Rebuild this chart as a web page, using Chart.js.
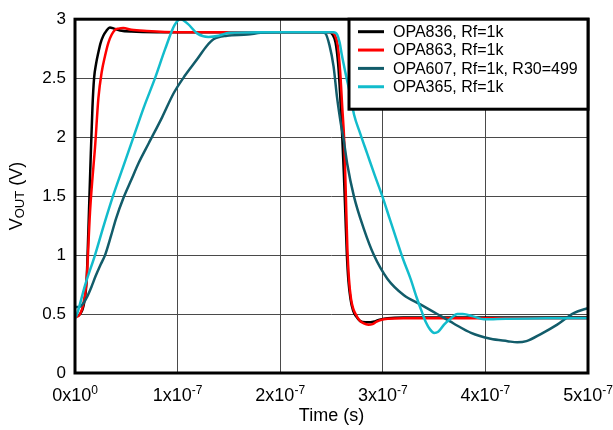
<!DOCTYPE html>
<html>
<head>
<meta charset="utf-8">
<script src="https://cdn.jsdelivr.net/npm/chart.js@4.4.1/dist/chart.umd.min.js"></script>
<style>
  html, body { margin: 0; padding: 0; background: #fff; }
  #wrap { width: 613px; height: 430px; }
</style>
</head>
<body>
<div id="wrap"><canvas id="myChart" width="613" height="430"></canvas></div>
<script>
// time in ns, output in V
const opa836T = [0, 5, 9, 11.4, 13, 15, 17, 18.6, 20.5, 22.8, 25, 27.6, 30.5, 34, 38, 44, 55, 80, 120, 160, 200, 230, 248, 251, 254, 256.5, 258.5, 260.5, 262, 263.5, 265, 266.5, 268.5, 271, 274, 278, 283, 288, 293, 298, 305, 320, 360, 400, 450, 500];
const opa836V = [0.48, 0.5, 0.6, 0.8, 1.2, 1.75, 2.25, 2.5, 2.62, 2.72, 2.8, 2.86, 2.9, 2.93, 2.92, 2.905, 2.895, 2.89, 2.89, 2.89, 2.89, 2.89, 2.89, 2.87, 2.8, 2.62, 2.35, 2.0, 1.7, 1.35, 1.0, 0.78, 0.63, 0.53, 0.48, 0.44, 0.43, 0.43, 0.44, 0.455, 0.465, 0.47, 0.47, 0.47, 0.47, 0.47];

const opa863T = [0, 5, 8, 11.4, 14.6, 17, 19.5, 22.8, 26, 29.3, 32.5, 35.8, 39, 42.3, 47, 55, 70, 100, 150, 200, 240, 250, 253, 256, 258.5, 260.5, 262.5, 264, 265.5, 267, 269, 271, 273.5, 277, 281.5, 286, 290, 294, 298, 305, 320, 360, 400, 450, 500];
const opa863V = [0.47, 0.5, 0.58, 0.8, 1.36, 1.65, 1.91, 2.33, 2.55, 2.69, 2.8, 2.87, 2.91, 2.92, 2.925, 2.91, 2.9, 2.89, 2.89, 2.89, 2.89, 2.89, 2.87, 2.78, 2.55, 2.25, 1.95, 1.5, 1.05, 0.8, 0.63, 0.55, 0.5, 0.45, 0.42, 0.41, 0.415, 0.435, 0.45, 0.46, 0.465, 0.465, 0.465, 0.465, 0.465];

const opa607T = [0, 4, 8, 12, 16, 20, 25, 29.3, 35, 40, 47, 55, 62, 72, 85, 96, 107, 119, 128.6, 135, 148, 168, 181, 200, 240, 244, 248, 252, 255.5, 259, 262, 265.3, 271.8, 281.6, 291.3, 304.4, 320.6, 337, 353, 369, 386, 405, 421.6, 431, 440, 454, 470, 486.6, 500];
const opa607V = [0.56, 0.56, 0.59, 0.65, 0.73, 0.82, 0.92, 1.0, 1.16, 1.31, 1.48, 1.64, 1.78, 1.95, 2.17, 2.37, 2.52, 2.66, 2.775, 2.83, 2.86, 2.87, 2.885, 2.89, 2.89, 2.88, 2.78, 2.6, 2.33, 2.12, 1.97, 1.775, 1.5, 1.22, 1.0, 0.8, 0.66, 0.58, 0.5, 0.42, 0.34, 0.29, 0.27, 0.26, 0.27, 0.33, 0.41, 0.51, 0.55];

const opa365T = [0, 2, 10, 19.5, 28, 37, 47, 57, 67, 78, 88, 97, 103, 110, 119, 130, 140, 150, 180, 220, 252, 255.5, 258, 260, 264, 268, 272, 278, 284.8, 292, 299.5, 307, 314.2, 320, 327, 333, 338, 342, 346, 350, 354, 359.7, 366, 372.7, 378, 388, 398.7, 420, 460, 500];
const opa365V = [0.46, 0.5, 0.75, 1.0, 1.25, 1.5, 1.75, 2.0, 2.25, 2.5, 2.75, 2.95, 3.0, 2.96, 2.88, 2.85, 2.86, 2.885, 2.89, 2.89, 2.89, 2.87, 2.8, 2.7, 2.53, 2.37, 2.19, 2.03, 1.86, 1.68, 1.5, 1.3, 1.11, 0.96, 0.8, 0.64, 0.52, 0.43, 0.37, 0.34, 0.35, 0.41, 0.46, 0.5, 0.5, 0.48, 0.455, 0.46, 0.465, 0.465];

const seriesNames = ['OPA836, Rf=1k', 'OPA863, Rf=1k', 'OPA607, Rf=1k, R30=499', 'OPA365, Rf=1k'];
const seriesColors = ['#000000', '#ff0000', '#125c6a', '#12bccc'];

const xTicks = [0, 100, 200, 300, 400, 500];
const xTickMantissa = ['0', '1', '2', '3', '4', '5'];
const xTickExponent = ['0', '-7', '-7', '-7', '-7', '-7'];

const FONT = '"Liberation Sans", Arial, sans-serif';

function pts(t, v){
  return t.map((x, i) => ({x: x, y: v[i]}));
}

function makeSet(i, t, v, order){
  return {
    label: seriesNames[i],
    data: pts(t, v),
    borderColor: seriesColors[i],
    backgroundColor: seriesColors[i],
    borderWidth: 2.5,
    pointRadius: 0,
    cubicInterpolationMode: 'monotone',
    order: order
  };
}

const decor = {
  id: 'decor',
  afterDraw(chart){
    const ctx = chart.ctx;
    const a = chart.chartArea;
    const xs = chart.scales.x;
    ctx.save();

    // plot frame
    ctx.lineWidth = 3;
    ctx.strokeStyle = '#000';
    ctx.strokeRect(a.left, a.top, a.right - a.left, a.bottom - a.top);

    // x tick labels with superscript exponent
    ctx.fillStyle = '#000';
    ctx.textBaseline = 'alphabetic';
    ctx.textAlign = 'left';
    xTicks.forEach((v, i) => {
      const px = xs.getPixelForValue(v);
      const main = xTickMantissa[i] + 'x10';
      ctx.font = '18px ' + FONT;
      const w1 = ctx.measureText(main).width;
      ctx.font = '12px ' + FONT;
      const w2 = ctx.measureText(xTickExponent[i]).width;
      const x0 = px - (w1 + w2) / 2;
      ctx.font = '18px ' + FONT;
      ctx.fillText(main, x0, 401);
      ctx.font = '12px ' + FONT;
      ctx.fillText(xTickExponent[i], x0 + w1, 393.5);
    });

    // x title
    ctx.font = '18px ' + FONT;
    ctx.textAlign = 'center';
    ctx.fillText('Time (s)', (a.left + a.right) / 2, 421);

    // y title  V_OUT (V)
    ctx.save();
    ctx.translate(15, (a.top + a.bottom) / 2);
    ctx.rotate(-Math.PI / 2);
    ctx.textAlign = 'left';
    ctx.font = '18px ' + FONT;
    const wV = ctx.measureText('V').width;
    const wRest = ctx.measureText(' (V)').width;
    ctx.font = '13px ' + FONT;
    const wSub = ctx.measureText('OUT').width;
    let sx = -(wV + wSub + wRest) / 2;
    ctx.font = '18px ' + FONT;
    ctx.fillText('V', sx, 6.5);
    ctx.font = '13px ' + FONT;
    ctx.fillText('OUT', sx + wV, 8.5);
    ctx.font = '18px ' + FONT;
    ctx.fillText(' (V)', sx + wV + wSub, 6.5);
    ctx.restore();

    // legend box
    const lx = 349, ly = a.top, lw = a.right - 349, lh = 90;
    ctx.fillStyle = '#fff';
    ctx.fillRect(lx, ly, lw, lh);
    ctx.lineWidth = 3;
    ctx.strokeStyle = '#000';
    ctx.strokeRect(lx, ly, lw, lh);
    ctx.font = '16px ' + FONT;
    ctx.textAlign = 'left';
    ctx.textBaseline = 'middle';
    seriesNames.forEach((name, i) => {
      const y = 31.7 + i * 18.35;
      ctx.strokeStyle = seriesColors[i];
      ctx.lineWidth = 3;
      ctx.beginPath();
      ctx.moveTo(358, y);
      ctx.lineTo(384, y);
      ctx.stroke();
      ctx.fillStyle = '#000';
      ctx.fillText(name, 393, y + 1);
    });

    ctx.restore();
  }
};

const config = {
  type: 'line',
  data: {
    datasets: [
      makeSet(0, opa836T, opa836V, 4),
      makeSet(1, opa863T, opa863V, 3),
      makeSet(2, opa607T, opa607V, 2),
      makeSet(3, opa365T, opa365V, 1)
    ]
  },
  options: {
    responsive: false,
    animation: false,
    devicePixelRatio: 1,
    layout: { padding: { top: 13, right: 25, left: 0, bottom: 0 } },
    plugins: {
      legend: { display: false },
      tooltip: { enabled: false }
    },
    scales: {
      x: {
        type: 'linear',
        min: 0,
        max: 500,
        ticks: { display: false, stepSize: 100 },
        grid: { color: '#4a4a4a', lineWidth: 1, drawTicks: false },
        border: { display: false },
        afterFit: s => { s.height = 57; }
      },
      y: {
        type: 'linear',
        min: 0,
        max: 3,
        ticks: {
          stepSize: 0.5,
          color: '#000',
          padding: 9,
          font: { family: FONT, size: 17 },
          callback: v => String(v)
        },
        grid: { color: '#4a4a4a', lineWidth: 1, drawTicks: false },
        border: { display: false },
        afterFit: s => { s.width = 75; }
      }
    }
  },
  plugins: [decor]
};

new Chart(document.getElementById('myChart'), config);
</script>
</body>
</html>
